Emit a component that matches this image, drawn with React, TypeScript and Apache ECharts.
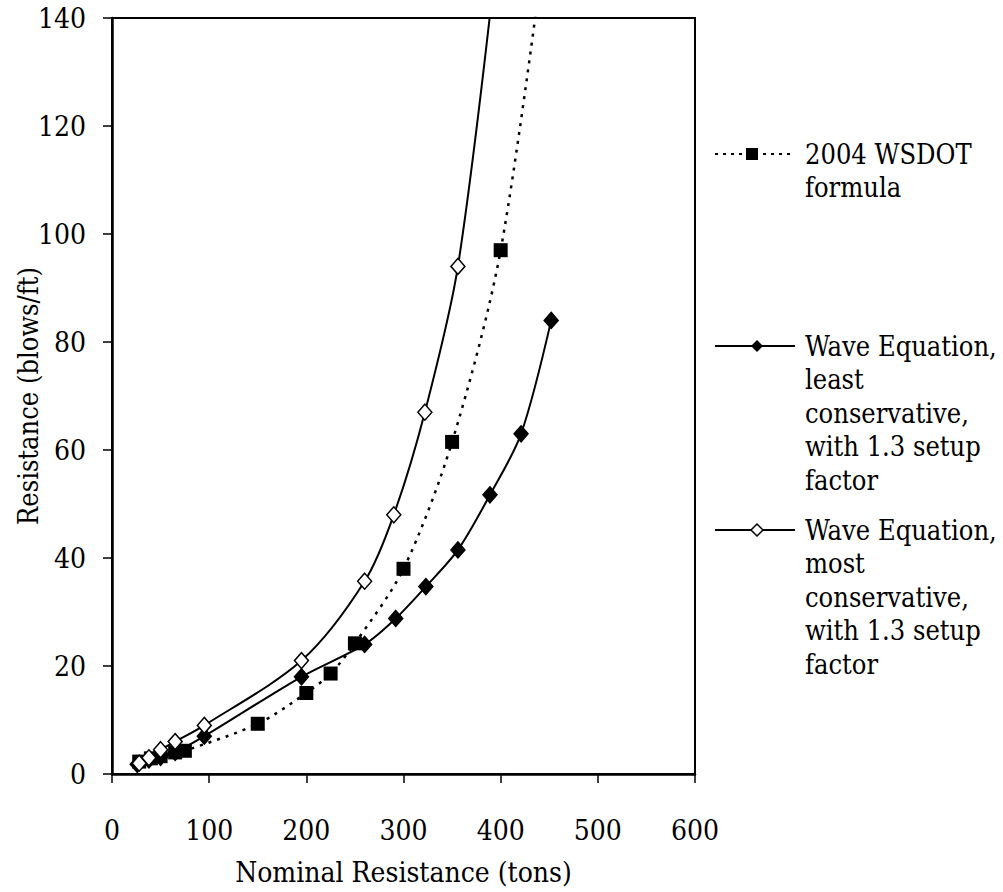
import React, { useEffect, useRef } from "react";
import * as echarts from "echarts";

const FONT = "DejaVu Serif Condensed";

const wsdotX = [28, 40, 50, 65, 75, 150, 200, 225, 250, 300, 350, 400, 450];
const wsdotY = [2.3, 2.9, 3.3, 4.0, 4.3, 9.3, 15, 18.6, 24.2, 38, 61.5, 97, 160];

const leastX = [26, 38, 50, 65, 95, 195, 260, 292, 323, 356, 389, 421, 452];
const leastY = [1.8, 2.6, 3.1, 4.0, 7.0, 18, 24, 28.8, 34.7, 41.5, 51.7, 63, 84];

const mostX = [28, 38, 50, 65, 95, 195, 260, 290, 322, 356, 398];
const mostY = [2.0, 3.0, 4.5, 6.0, 9.0, 21, 35.7, 48, 67, 94, 155];

const xTicks = [0, 100, 200, 300, 400, 500, 600];
const yTicks = [0, 20, 40, 60, 80, 100, 120, 140];

const legendLines = [
  ["2004 WSDOT", "formula"],
  ["Wave Equation,", "least", "conservative,", "with 1.3 setup", "factor"],
  ["Wave Equation,", "most", "conservative,", "with 1.3 setup", "factor"],
];

const zip = (xs: number[], ys: number[]) => xs.map((x, i) => [x, ys[i]]);

export default function App() {
  const ref = useRef<HTMLDivElement>(null);
  useEffect(() => {
    if (!ref.current) return;
    const chart = echarts.init(ref.current, null, { renderer: "svg" });
    const legendY = [154, 346, 530];
    const lh = 33.5;
    const graphic: any[] = [];
    graphic.push({
      type: "line",
      shape: { x1: 715, y1: legendY[0], x2: 792, y2: legendY[0] },
      style: { stroke: "#000", lineWidth: 2, lineDash: [3, 5] },
    });
    graphic.push({
      type: "rect",
      shape: { x: 746, y: legendY[0] - 6, width: 12, height: 12 },
      style: { fill: "#000" },
    });
    graphic.push({
      type: "line",
      shape: { x1: 715, y1: legendY[1], x2: 795, y2: legendY[1] },
      style: { stroke: "#000", lineWidth: 2 },
    });
    graphic.push({
      type: "polygon",
      shape: { points: [[757, legendY[1] - 6], [763, legendY[1]], [757, legendY[1] + 6], [751, legendY[1]]] },
      style: { fill: "#000" },
    });
    graphic.push({
      type: "line",
      shape: { x1: 715, y1: legendY[2], x2: 795, y2: legendY[2] },
      style: { stroke: "#000", lineWidth: 2 },
    });
    graphic.push({
      type: "polygon",
      shape: { points: [[757, legendY[2] - 6], [763, legendY[2]], [757, legendY[2] + 6], [751, legendY[2]]] },
      style: { fill: "#fff", stroke: "#000", lineWidth: 1.5 },
    });
    legendLines.forEach((lines, i) => {
      lines.forEach((t, j) => {
        graphic.push({
          type: "text",
          x: 805,
          y: legendY[i] + j * lh,
          style: {
            text: t,
            fontFamily: FONT,
            fontSize: 27,
            fill: "#000",
            textAlign: "left",
            textVerticalAlign: "middle",
          },
        });
      });
    });

    const sym = (color: string) => ({ color, borderColor: "#000", borderWidth: 1.5 });

    chart.setOption({
      animation: false,
      backgroundColor: "#fff",
      textStyle: { fontFamily: FONT },
      grid: {
        left: 112,
        top: 18,
        right: 308,
        bottom: 118,
        containLabel: false,
        outerBoundsMode: "none",
        show: true,
        borderColor: "#000",
        borderWidth: 2,
        backgroundColor: "transparent",
      },
      xAxis: {
        type: "value",
        min: 0,
        max: 600,
        interval: 100,
        name: "Nominal Resistance (tons)",
        nameLocation: "middle",
        nameGap: 84,
        nameMoveOverlap: false,
        nameTextStyle: { fontFamily: FONT, fontSize: 28, color: "#000" },
        axisLine: { show: true, lineStyle: { color: "#000", width: 2.5 } },
        axisTick: { show: true, inside: false, length: 9, lineStyle: { color: "#000", width: 1.5 } },
        axisLabel: {
          fontFamily: FONT,
          fontSize: 28,
          color: "#000",
          margin: 42,
          formatter: (v: number) => (xTicks.includes(v) ? String(v) : ""),
        },
        splitLine: { show: false },
      },
      yAxis: {
        type: "value",
        min: 0,
        max: 140,
        interval: 20,
        name: "Resistance (blows/ft)",
        nameLocation: "middle",
        nameGap: 70,
        nameMoveOverlap: false,
        nameTextStyle: { fontFamily: FONT, fontSize: 27, color: "#000" },
        axisLine: { show: true, lineStyle: { color: "#000", width: 2.5 } },
        axisTick: { show: true, inside: false, length: 9, lineStyle: { color: "#000", width: 1.5 } },
        axisLabel: {
          fontFamily: FONT,
          fontSize: 28,
          color: "#000",
          margin: 26,
          formatter: (v: number) => (yTicks.includes(v) ? String(v) : ""),
        },
        splitLine: { show: false },
      },
      series: [
        {
          name: "2004 WSDOT formula",
          type: "line",
          data: zip(wsdotX, wsdotY),
          smooth: 0.3,
          clip: true,
          symbol: "rect",
          symbolSize: 14,
          itemStyle: { color: "#000" },
          lineStyle: { color: "#000", width: 2.5, type: [3, 6] },
          z: 3,
        },
        {
          name: "Wave Equation, least conservative, with 1.3 setup factor",
          type: "line",
          data: zip(leastX, leastY),
          smooth: 0.3,
          clip: true,
          symbol: "diamond",
          symbolSize: [14, 16],
          itemStyle: sym("#000"),
          lineStyle: { color: "#000", width: 2 },
          z: 4,
        },
        {
          name: "Wave Equation, most conservative, with 1.3 setup factor",
          type: "line",
          data: zip(mostX, mostY),
          smooth: 0.3,
          clip: true,
          symbol: "diamond",
          symbolSize: [14, 16],
          itemStyle: sym("#fff"),
          lineStyle: { color: "#000", width: 2 },
          z: 5,
        },
      ],
      graphic,
    });
    return () => chart.dispose();
  }, []);
  return <div ref={ref} style={{ position: "absolute", left: 0, top: 0, width: 1003, height: 892 }} />;
}
